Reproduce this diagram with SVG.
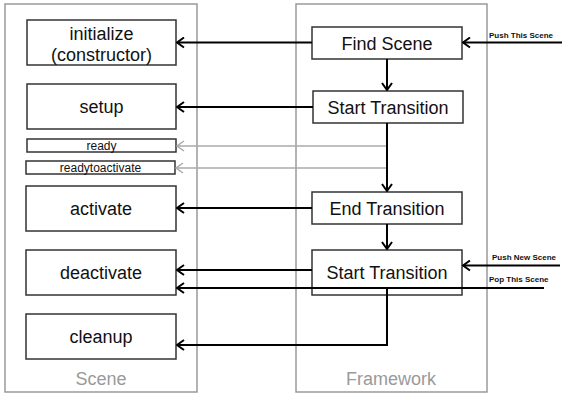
<svg xmlns="http://www.w3.org/2000/svg" width="570" height="400" viewBox="0 0 570 400">
<style>
.bg{fill:#fff}
.cont{fill:#fff;stroke:#9a9a9a;stroke-width:1.5}
.box{fill:#fff;stroke:#333;stroke-width:1.5}
.t{font-family:"Liberation Sans",Arial,sans-serif;font-size:18px;fill:#111;text-anchor:middle}
.s{font-family:"Liberation Sans",Arial,sans-serif;font-size:12px;fill:#111;text-anchor:middle}
.g{font-family:"Liberation Sans",Arial,sans-serif;font-size:18px;fill:#9a9a9a;text-anchor:middle}
.l{font-family:"Liberation Sans",Arial,sans-serif;font-size:8px;font-weight:bold;fill:#111}
.c{fill:none;stroke:#000;stroke-width:2}
.cg{fill:none;stroke:#aaa;stroke-width:1.5}
</style>
<defs>
<marker id="ah" viewBox="0 0 10 12" refX="9" refY="6" markerWidth="10" markerHeight="12" markerUnits="userSpaceOnUse" orient="auto">
<path d="M2,1 L9,6 L2,11" fill="none" stroke="#000" stroke-width="2"/>
</marker>
<marker id="ahg" viewBox="0 0 10 12" refX="9" refY="6" markerWidth="10" markerHeight="12" markerUnits="userSpaceOnUse" orient="auto">
<path d="M2,1 L9,6 L2,11" fill="none" stroke="#aaa" stroke-width="1.5"/>
</marker>
</defs>
<rect class="bg" x="0" y="0" width="570" height="400"/>
<g id="scene">
<rect class="cont" x="5" y="4" width="192" height="388"/>
<text class="g" x="101" y="385">Scene</text>
</g>
<g id="framework">
<rect class="cont" x="296" y="4" width="191" height="388"/>
<text class="g" x="391" y="385">Framework</text>
</g>
<g id="initialize">
<rect class="box" x="27" y="20" width="149" height="45"/>
<text class="t" x="101.5" y="39.5">initialize</text>
<text class="t" x="101.5" y="60.5">(constructor)</text>
</g>
<g id="setup">
<rect class="box" x="27" y="84" width="149" height="45"/>
<text class="t" x="101.5" y="113">setup</text>
</g>
<g id="ready">
<rect class="box" x="27" y="139" width="149" height="13"/>
<text class="s" x="101.5" y="150">ready</text>
</g>
<g id="readytoactivate">
<rect class="box" x="26" y="161" width="149" height="13"/>
<text class="s" x="100.5" y="172">readytoactivate</text>
</g>
<g id="activate">
<rect class="box" x="26" y="186" width="150" height="45"/>
<text class="t" x="101" y="215">activate</text>
</g>
<g id="deactivate">
<rect class="box" x="26" y="250" width="150" height="45"/>
<text class="t" x="101" y="279">deactivate</text>
</g>
<g id="cleanup">
<rect class="box" x="26" y="314" width="150" height="45"/>
<text class="t" x="101" y="343">cleanup</text>
</g>
<g id="findscene">
<rect class="box" x="312" y="27" width="150" height="32"/>
<text class="t" x="387" y="49.5">Find Scene</text>
</g>
<g id="starttransition1">
<rect class="box" x="313" y="91" width="150" height="32"/>
<text class="t" x="388" y="113.5">Start Transition</text>
</g>
<g id="endtransition">
<rect class="box" x="312" y="192" width="150" height="32"/>
<text class="t" x="387" y="214.5">End Transition</text>
</g>
<g id="starttransition2">
<rect class="box" x="312" y="250" width="150" height="45"/>
<text class="t" x="387" y="279">Start Transition</text>
</g>
<g id="connectors">
<path class="c" d="M312,42.5 H177" marker-end="url(#ah)"/>
<path class="c" d="M313,107 H177" marker-end="url(#ah)"/>
<path class="cg" d="M387,146 H177" marker-end="url(#ahg)"/>
<path class="cg" d="M387,168 H176" marker-end="url(#ahg)"/>
<path class="c" d="M387,59 V90" marker-end="url(#ah)"/>
<path class="c" d="M387,123 V191" marker-end="url(#ah)"/>
<path class="c" d="M312,208 H177" marker-end="url(#ah)"/>
<path class="c" d="M387,224 V249" marker-end="url(#ah)"/>
<path class="c" d="M312,270 H177" marker-end="url(#ah)"/>
<path class="c" d="M544,288 H177" marker-end="url(#ah)"/>
<path class="c" d="M387,288 V345 H177" marker-end="url(#ah)"/>
<path class="c" d="M562,42.5 H463" marker-end="url(#ah)"/>
<path class="c" d="M560,265.5 H463" marker-end="url(#ah)"/>
<text class="l" x="489" y="38">Push This Scene</text>
<text class="l" x="492" y="260">Push New Scene</text>
<text class="l" x="489" y="282">Pop This Scene</text>
</g>
</svg>
